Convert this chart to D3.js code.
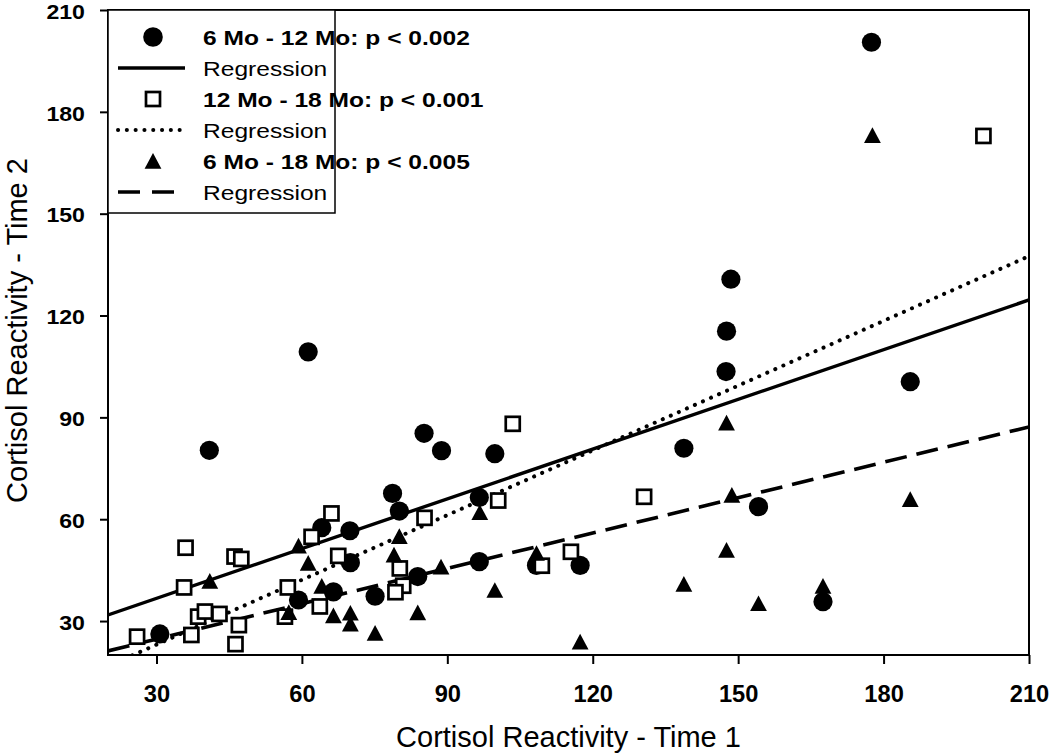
<!DOCTYPE html>
<html><head><meta charset="utf-8">
<script src="https://cdn.jsdelivr.net/npm/d3@7"></script>
<style>
body{margin:0;background:#fff}
text{font-family:"Liberation Sans",Arial,Helvetica,sans-serif;fill:#000}
</style>
</head><body>
<svg id="c" width="1050" height="755"></svg>
<script>
// ---- data ----
const circles6to12 = [
  [30.7,26.2],[40.9,80.3],[61.3,109.3],[59.3,36.2],[64.1,57.5],[69.9,56.6],[70.0,47.2],
  [66.5,38.6],[75.1,37.3],[78.7,67.6],[80.1,62.4],[83.9,43.1],[85.2,85.3],[88.8,80.2],
  [96.6,66.4],[96.6,47.5],[99.8,79.3],[108.4,46.4],[117.4,46.4],[138.8,80.9],[147.5,103.5],
  [147.6,115.4],[148.5,130.7],[154.2,63.7],[167.5,35.7],[177.5,200.5],[185.5,100.5]
];
const squares12to18 = [
  [26.0,25.4],[37.2,25.9],[38.6,31.3],[40.0,32.8],[43.0,32.1],[47.0,28.8],[46.3,23.2],
  [35.7,39.9],[36.0,51.6],[46.1,49.0],[47.5,48.3],[57.1,39.9],[56.5,31.3],[62.0,54.8],
  [66.1,61.7],[67.5,49.2],[63.7,34.3],[80.2,45.5],[80.9,40.4],[79.3,38.5],[85.3,60.4],
  [100.5,65.5],[103.5,88.1],[109.5,46.3],[115.5,50.4],[130.6,66.6],[200.6,172.9]
];
const triangles6to18 = [
  [41.0,41.8],[59.3,52.2],[61.3,47.1],[64.1,40.3],[57.3,32.6],[66.5,31.6],[70.0,32.4],
  [70.0,29.2],[75.1,26.5],[79.0,49.5],[80.1,55.0],[83.9,32.5],[88.7,46.0],[96.7,62.0],
  [99.8,39.1],[108.4,50.0],[117.4,23.9],[138.8,40.9],[147.6,88.4],[147.6,50.9],[148.7,67.1],
  [154.2,35.2],[167.5,40.3],[177.7,173.1],[185.5,65.9]
];
const regression6to12 = [[20,31.8],[210,124.6]];
const regression12to18 = [[20,16.7],[210,137.5]];
const regression6to18 = [[20,21.2],[210,87.2]];
const xTickValues = [30,60,90,120,150,180,210];
const yTickValues = [30,60,90,120,150,180,210];
const legendLabels = ["6 Mo - 12 Mo: p < 0.002","Regression","12 Mo - 18 Mo: p < 0.001","Regression","6 Mo - 18 Mo: p < 0.005","Regression"];
const xTitle = "Cortisol Reactivity - Time 1";
const yTitle = "Cortisol Reactivity - Time 2";

// ---- layout ----
const L = 108, R = 1029, T = 10, B = 655;
const svg = d3.select("#c");
svg.append("rect").attr("width",1050).attr("height",755).attr("fill","#fff");
const x = d3.scaleLinear().domain([20,210]).range([L,R]);
const y = d3.scaleLinear().domain([20,210]).range([B,T]);

svg.append("clipPath").attr("id","clip").append("rect")
  .attr("x",L).attr("y",T).attr("width",R-L).attr("height",B-T);

// regression lines
const line = d3.line().x(d=>x(d[0])).y(d=>y(d[1]));
const lg = svg.append("g").attr("clip-path","url(#clip)");
const styles = [
  {data:regression6to12, dash:null, cap:"butt", w:3.4},
  {data:regression12to18, dash:"0.1 8.7", cap:"round", w:4},
  {data:regression6to18, dash:"22 10", cap:"butt", w:3.6}
];
styles.forEach(s=>{
  const p = lg.append("path").attr("d",line(s.data)).attr("fill","none")
    .attr("stroke","#000").attr("stroke-width",s.w).attr("stroke-linecap",s.cap);
  if(s.dash) p.attr("stroke-dasharray",s.dash);
});

// markers
const mg = svg.append("g");
const triPath = "M0,-9.5L8.4,6.2L-8.4,6.2Z";
mg.selectAll(".ci").data(circles6to12).join("circle")
  .attr("cx",d=>x(d[0])).attr("cy",d=>y(d[1])).attr("r",9.6).attr("fill","#000");
mg.selectAll(".sq").data(squares12to18).join("rect")
  .attr("x",d=>x(d[0])-7).attr("y",d=>y(d[1])-7).attr("width",14).attr("height",14)
  .attr("fill","#fff").attr("stroke","#000").attr("stroke-width",2.7);
mg.selectAll(".tr").data(triangles6to18).join("path")
  .attr("transform",d=>`translate(${x(d[0])},${y(d[1])+1.5})`).attr("d",triPath).attr("fill","#000");

// frame
svg.append("rect").attr("x",L).attr("y",T).attr("width",R-L).attr("height",B-T)
  .attr("fill","none").attr("stroke","#000").attr("stroke-width",2);

// axes
const xa = svg.append("g").attr("transform",`translate(0,${B})`)
  .call(d3.axisBottom(x).tickValues(xTickValues).tickSize(9).tickSizeOuter(0).tickFormat(d3.format("d")));
const ya = svg.append("g").attr("transform",`translate(${L},0)`)
  .call(d3.axisLeft(y).tickValues(yTickValues).tickSize(8).tickSizeOuter(0).tickFormat(d3.format("d")));
[xa,ya].forEach(a=>{
  a.select(".domain").remove();
  a.selectAll(".tick line").attr("stroke","#000").attr("stroke-width",2);
  a.selectAll(".tick text").attr("font-weight","bold")
    .attr("font-family","'Liberation Sans',Arial,sans-serif").attr("fill","#000");
});
xa.selectAll(".tick text").attr("font-size",23).attr("transform","scale(1.03,1)")
  .attr("dy",null).attr("y",47).attr("text-anchor","middle");
ya.selectAll(".tick text").attr("font-size",21).attr("transform","scale(1.1,1)")
  .attr("x",-21).attr("dy",null).attr("y",8.3).attr("text-anchor","end");

// axis titles
svg.append("text").attr("transform",`translate(${(L+R)/2},747)`)
  .attr("text-anchor","middle").attr("font-size",29).text(xTitle);
svg.append("text").attr("transform",`translate(27,${(T+B)/2 - 2}) rotate(-90)`)
  .attr("text-anchor","middle").attr("font-size",29).text(yTitle);

// legend
const leg = svg.append("g");
leg.append("rect").attr("x",L).attr("y",T).attr("width",227).attr("height",203)
  .attr("fill","#fff").attr("stroke","#000").attr("stroke-width",1.5);
const rowY = [37,68,99,130,161,192];
const mx = 153;
leg.append("circle").attr("cx",mx).attr("cy",rowY[0]).attr("r",9.8).attr("fill","#000");
leg.append("rect").attr("x",mx-7).attr("y",rowY[2]-7).attr("width",14).attr("height",14)
  .attr("fill","#fff").attr("stroke","#000").attr("stroke-width",2.7);
leg.append("path").attr("transform",`translate(${mx},${rowY[4]+1.5})`).attr("d",triPath).attr("fill","#000");
[[rowY[1],null,"butt",3.4],[rowY[3],"0.1 8.7","round",4],[rowY[5],"22 12","butt",3.6]].forEach(s=>{
  const p = leg.append("line").attr("x1",118).attr("x2",185).attr("y1",s[0]).attr("y2",s[0])
    .attr("stroke","#000").attr("stroke-width",s[3]).attr("stroke-linecap",s[2]);
  if(s[1]) p.attr("stroke-dasharray",s[1]);
});
legendLabels.forEach((t,i)=>{
  leg.append("text").attr("transform",`translate(203,${rowY[i]+7.5}) scale(1.17,1)`)
    .attr("font-size",21).attr("font-weight", i%2===0 ? "bold" : "normal").text(t);
});
</script>
</body></html>
